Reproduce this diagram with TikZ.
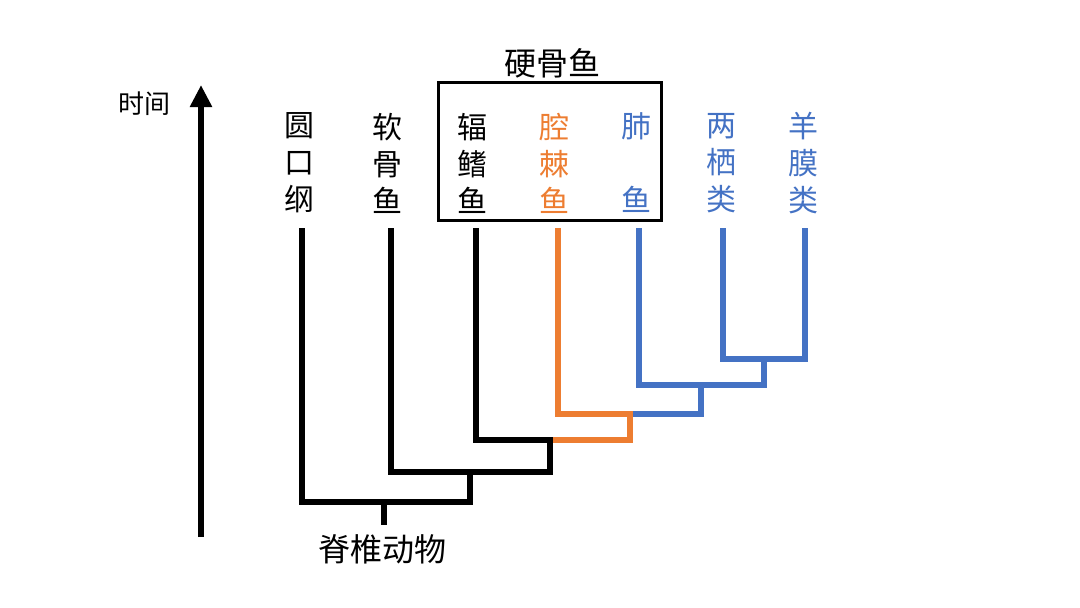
\documentclass[tikz,border=0pt]{standalone}
\usepackage{fontspec}
\newfontfamily\cjk{Noto Sans CJK SC}
\usetikzlibrary{arrows.meta}
\definecolor{treeorange}{HTML}{ED7D31}
\definecolor{treeblue}{HTML}{4472C4}
\tikzset{
  leaf/.style={font=\cjk\fontsize{30}{37}\selectfont, align=center, inner sep=0pt, anchor=center},
  lbl/.style={font=\cjk\fontsize{32}{36}\selectfont, inner sep=0pt, anchor=center},
  tree/.style={line width=6pt, line cap=rect, line join=miter},
}
\begin{document}
\begin{tikzpicture}[x=1pt,y=-1pt]
\useasboundingbox (0,0) rectangle (1080,608);
% time axis
\coordinate (axtail) at (201,537);
\coordinate (axtip) at (201,85);
\draw[line width=6pt, -{Triangle[width=21pt,length=22pt]}] (axtail) -- (axtip);
\node[lbl, font=\cjk\fontsize{26}{30}\selectfont] (time) at (144,104) {时间};
% bony fish box
\node[draw, line width=3pt, minimum width=223pt, minimum height=138pt, inner sep=0pt] (box) at (549.5,151) {};
\node[lbl] (bony) at (552,63) {硬骨鱼};
% leaves
\node[leaf] (n1) at (299,163) {圆\\口\\纲};
\node[leaf] (n2) at (387,163) {软\\骨\\鱼};
\node[leaf] (n3) at (472,163) {辐\\鳍\\鱼};
\node[leaf, text=treeorange] (n4) at (554,163) {腔\\棘\\鱼};
\node[leaf, text=treeblue] (n5) at (636,163) {肺\\~\\鱼};
\node[leaf, text=treeblue] (n6) at (721,163) {两\\栖\\类};
\node[leaf, text=treeblue] (n7) at (803,163) {羊\\膜\\类};
\node[lbl] (vert) at (382,549) {脊椎动物};
% tree coordinates
\coordinate (t1) at (302,231);
\coordinate (t2) at (391,231);
\coordinate (t3) at (476,231);
\coordinate (t4) at (558,231);
\coordinate (t5) at (639,231);
\coordinate (t6) at (723,231);
\coordinate (t7) at (805,231);
\coordinate (jA) at (764,359);
\coordinate (jB) at (701,385);
\coordinate (jC) at (630,414);
\coordinate (jD) at (550,440);
\coordinate (jE) at (470,472);
\coordinate (jF) at (384,502);
\coordinate (root) at (384,522);
% blue
\draw[tree, treeblue] (t6) |- (jA) -| (t7);
\draw[tree, treeblue] (jA) -- (jA|-jB);
\draw[tree, treeblue] (t5) |- (jA|-jB);
\draw[tree, treeblue] (jB) -- (jB|-jC) -- (jC);
% orange
\draw[tree, treeorange] (t4) |- (jC) -- (jC|-jD) -- (jD);
% black
\draw[tree] (t3) |- (jD) -- (jD|-jE) -- (t2|-jE) -- (t2);
\draw[tree] (jE) -- (jE|-jF);
\draw[tree] (t1) |- (jE|-jF);
\draw[tree] (jF) -- (root);
\end{tikzpicture}
\end{document}
